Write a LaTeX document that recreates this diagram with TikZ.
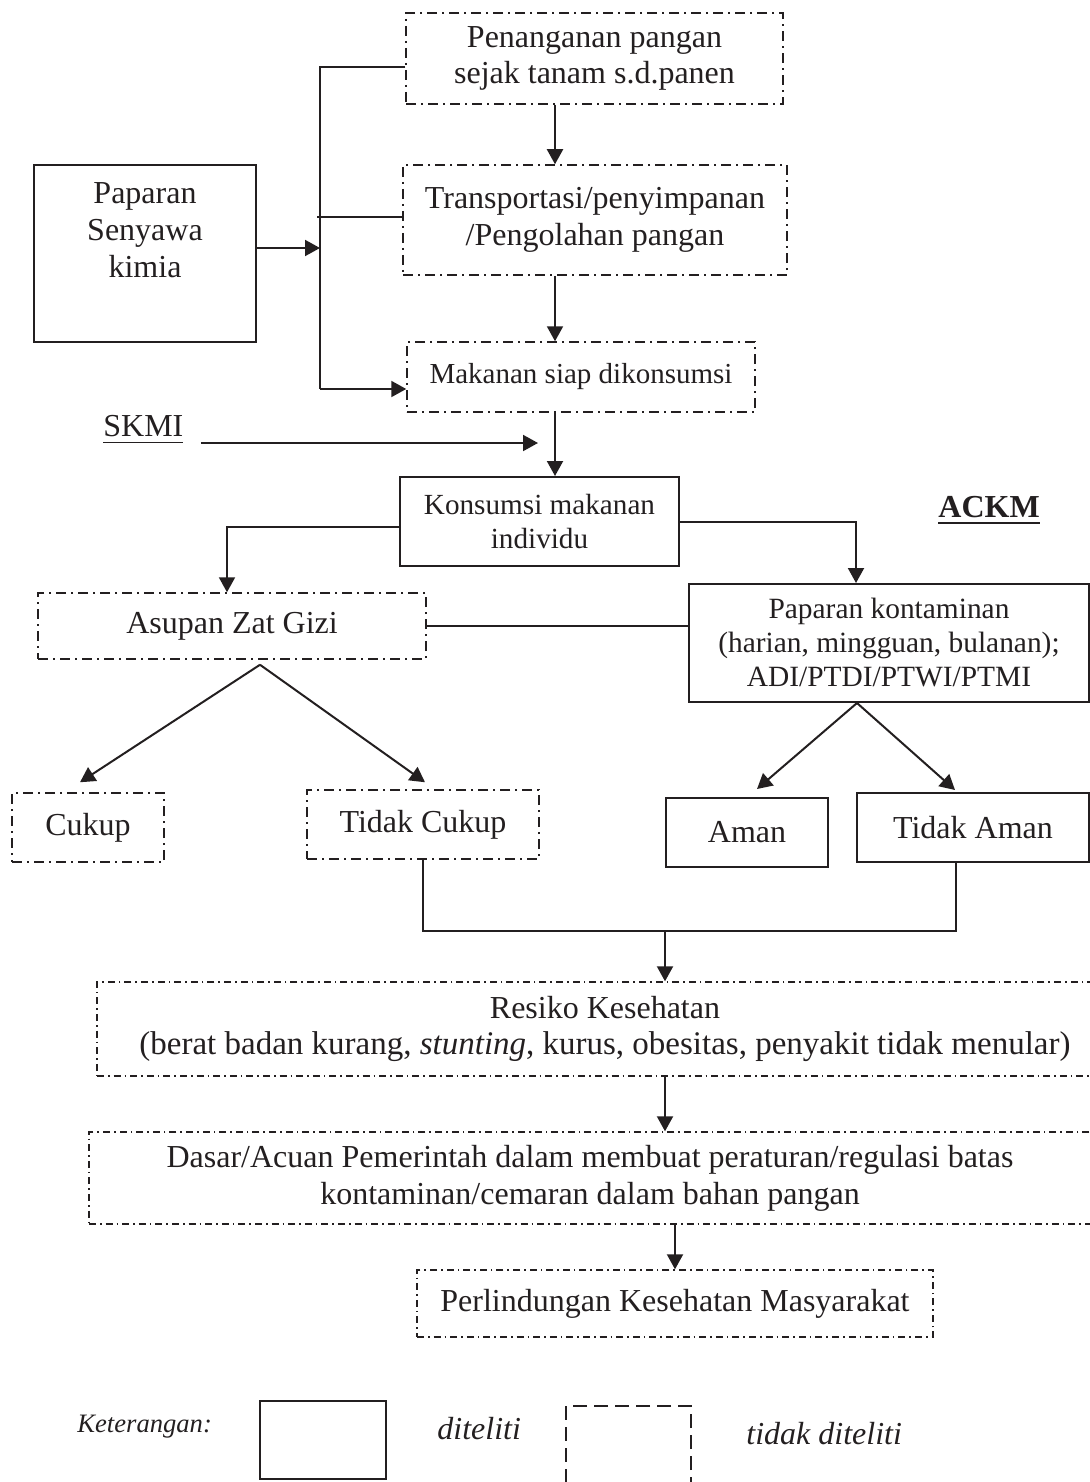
\documentclass[tikz,border=0pt]{standalone}
\usepackage{fontspec}
\setmainfont{Liberation Serif}
\usetikzlibrary{positioning,arrows.meta,calc}
\definecolor{tinta}{HTML}{231F20}
\newcommand{\garisbawah}[3]{\setbox0=\hbox{#3}\rlap{\rule[#1]{\wd0}{#2}}\box0}
\tikzset{
  kk-kotak/.style={
    draw=tinta, line width=1pt, align=center, inner sep=0pt,
    text=tinta, font=\fontsize{16}{18.4}\selectfont
  },
  kk-putus/.style={kk-kotak, line width=0.75pt,
    dash pattern=on 5pt off 2.5pt on 1pt off 2.5pt},
  kk-putus-halus/.style={kk-kotak, line width=0.7pt,
    dash pattern=on 3.5pt off 2pt on 0.8pt off 2pt},
  kk-legenda/.style={draw=tinta, line width=0.9pt, inner sep=0pt,
    dash pattern=on 7pt off 3.5pt},
  kk-panah/.style={-{Triangle[length=7.5pt,width=8pt]}, line width=1pt, draw=tinta},
  kk-garis/.style={line width=1pt, draw=tinta},
  kk-teks/.style={inner sep=0pt, text=tinta, font=\fontsize{16}{18.4}\selectfont},
  kk-miring/.style={kk-teks, font=\fontsize{16}{18.4}\selectfont\itshape}
}
\begin{document}
\begin{tikzpicture}[x=0.5pt, y=-0.5pt]
\useasboundingbox (0,0) rectangle (1090,1482);

% Alur pangan
\node[kk-putus, minimum width=188.5pt, minimum height=45.5pt] (penanganan)
  at (594.5,58.5) {Penanganan pangan\\ sejak tanam s.d.panen};
\node[kk-putus, minimum width=192pt, minimum height=55pt] (transport)
  at (595,220) {Transportasi/penyimpanan\\ /Pengolahan pangan};
\node[kk-putus, minimum width=174pt, minimum height=35pt,
  font=\fontsize{14.5}{17}\selectfont] (makanan)
  at (581,377) {Makanan siap dikonsumsi};
\node[kk-kotak, minimum width=111pt, minimum height=88.5pt,
  label={[kk-teks, align=center, anchor=north, label distance=-9pt,
    font=\fontsize{16}{18.5}\selectfont]90:Paparan\\ Senyawa\\ kimia}]
  (senyawa) at (145,253.5) {};

% SKMI dan konsumsi
\node[kk-teks, anchor=base west] (skmi) at (103,436)
  {\garisbawah{-3.5pt}{0.6pt}{SKMI}};
\coordinate (skmiujung) at (538,443);
\node[kk-kotak, minimum width=139.5pt, minimum height=44.5pt,
  font=\fontsize{14.6}{17}\selectfont] (konsumsi)
  at (539.5,521.5) {Konsumsi makanan\\ individu};
\node[kk-teks, anchor=base west, font=\fontsize{16}{18.4}\selectfont\bfseries]
  (ackm) at (938,517) {\garisbawah{-3.7pt}{1.4pt}{ACKM}};

% Asupan dan paparan
\node[kk-putus, minimum width=194pt, minimum height=33pt] (asupan)
  at (232,626) {Asupan Zat Gizi};
\node[kk-kotak, minimum width=200pt, minimum height=59pt,
  font=\fontsize{14.7}{17}\selectfont] (kontaminan)
  at (889,643) {Paparan kontaminan\\ (harian, mingguan, bulanan);\\ ADI/PTDI/PTWI/PTMI};

\node[kk-putus, minimum width=76pt, minimum height=34.5pt] (cukup)
  at (88,827.5) {Cukup};
\node[kk-putus, minimum width=116pt, minimum height=34.5pt] (tdkcukup)
  at (423,824.5) {Tidak Cukup};
\node[kk-kotak, minimum width=81pt, minimum height=34.5pt] (aman)
  at (747,832.5) {Aman};
\node[kk-kotak, minimum width=116pt, minimum height=34.5pt] (tdkaman)
  at (973,827.5) {Tidak Aman};

% Dampak
\node[kk-putus-halus, minimum width=508pt, minimum height=47pt] (resiko)
  at (605,1029) {Resiko Kesehatan\\ {\fontsize{16.5}{18.4}\selectfont
  (berat badan kurang, \textit{stunting}, kurus, obesitas, penyakit tidak menular)}};
\node[kk-putus-halus, minimum width=501pt, minimum height=46pt] (dasar)
  at (590,1178) {Dasar/Acuan Pemerintah dalam membuat peraturan/regulasi batas\\
  kontaminan/cemaran dalam bahan pangan};
\node[kk-putus-halus, minimum width=258pt, minimum height=33.5pt] (lindung)
  at (675,1303.5) {Perlindungan Kesehatan Masyarakat};

% Keterangan
\node[kk-teks, anchor=base west, font=\fontsize{13.3}{15}\selectfont\itshape]
  (ket) at (77,1432) {Keterangan:};
\node[kk-kotak, minimum width=63pt, minimum height=39pt] (ketya) at (323,1440) {};
\node[kk-miring, anchor=base west] (diteliti) at (437,1439) {diteliti};
\node[kk-legenda, minimum width=62.5pt, minimum height=43pt] (kettidak)
  at (628.5,1449) {};
\node[kk-miring, anchor=base west] (tdkditeliti) at (746,1444) {tidak diteliti};

% Panah utama
\coordinate (sumbu) at (555,0);
\draw[kk-panah] (penanganan.south -| sumbu) -- (transport.north -| sumbu);
\draw[kk-panah] (transport.south -| sumbu) -- (makanan.north -| sumbu);
\draw[kk-panah] (makanan.south -| sumbu) -- (konsumsi.north -| sumbu);

% Kurung paparan senyawa
\coordinate (kurungatas) at (320,67);
\coordinate (kurungkiri) at (317,217);
\coordinate (kurungtengah) at (320,248);
\coordinate (kurungbawah) at (320,389);
\draw[kk-garis] (penanganan.west |- kurungatas) -- (kurungatas) -- (kurungbawah);
\draw[kk-garis] (kurungkiri) -- (transport.west |- kurungkiri);
\draw[kk-panah] (senyawa.east |- kurungtengah) -- (kurungtengah);
\draw[kk-panah] (kurungbawah) -- (makanan.west |- kurungbawah);

\draw[kk-panah, shorten <=8.5pt] (skmi.east |- skmiujung) -- (skmiujung);

\draw[kk-panah] ([yshift=-2.75pt]konsumsi.west) -| ([xshift=-2.5pt]asupan.north);
\draw[kk-panah] (konsumsi.east) -| ([xshift=-16.5pt]kontaminan.north);
\draw[kk-garis] (asupan.east) -- (asupan.east -| kontaminan.west);

\draw[kk-panah] ([xshift=14pt,yshift=-2.5pt]asupan.south)
  -- ([xshift=-4pt,yshift=5pt]cukup.north);
\draw[kk-panah] ([xshift=14pt,yshift=-2.5pt]asupan.south)
  -- ([xshift=1pt,yshift=3.5pt]tdkcukup.north);
\draw[kk-panah] ([xshift=-16pt]kontaminan.south)
  -- ([xshift=5pt,yshift=4pt]aman.north);
\draw[kk-panah] ([xshift=-16pt]kontaminan.south)
  -- ([xshift=-9pt,yshift=1pt]tdkaman.north);

\coordinate (gabung) at (665,931);
\draw[kk-garis] (tdkcukup.south) |- (gabung) -| ([xshift=-8.5pt]tdkaman.south);
\draw[kk-panah] (gabung) -- (gabung |- resiko.north);
\draw[kk-panah] (gabung |- resiko.south) -- (gabung |- dasar.north);
\draw[kk-panah] (lindung.north |- dasar.south) -- (lindung.north);
\end{tikzpicture}
\end{document}
